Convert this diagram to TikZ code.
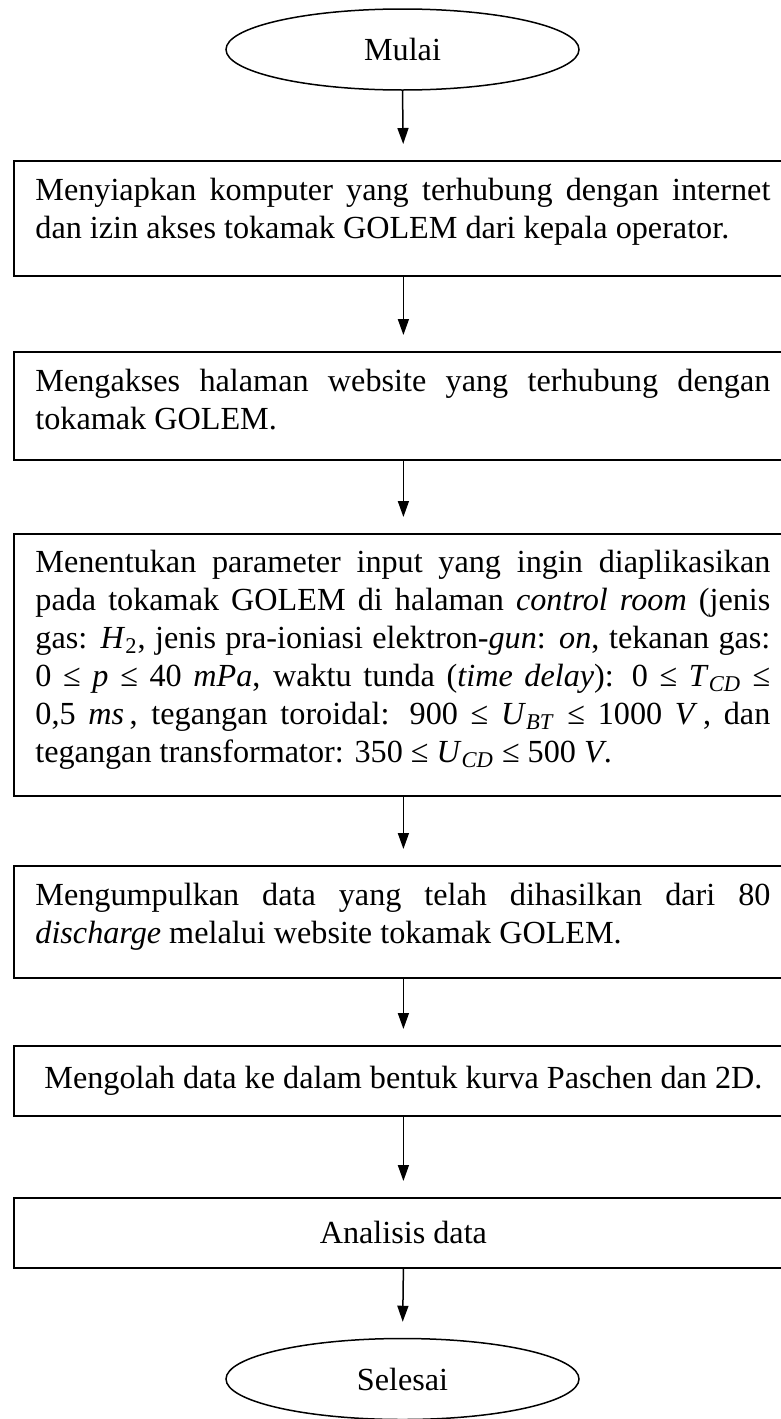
\documentclass[tikz,border=0pt]{standalone}
\usepackage{fontspec}
\setmainfont{Liberation Serif}
\usetikzlibrary{arrows.meta,shapes.geometric}
\newcommand{\mi}[1]{\textit{#1}}
\newcommand{\sbi}[1]{\textsubscript{\textit{#1}}}
\begin{document}
\begin{tikzpicture}[x=0.5pt,y=-0.5pt,
  every node/.style={font=\fontsize{16.1}{19}\selectfont},
  term/.style={ellipse, draw, line width=0.75pt, minimum width=176.5pt, minimum height=40.5pt, inner sep=0pt},
  procbox/.style={draw, line width=0.9pt, minimum width=389.5pt, inner sep=0pt, anchor=north west},
  txt/.style={anchor=north west, inner sep=0pt, text width=367.5pt, align=justify},
  arr/.style={line width=0.75pt, -{Triangle[width=5.5pt,length=8pt]}, shorten >=8pt}]
\useasboundingbox (0,0) rectangle (781,1419);
% terminals
\node[term] (start) at (402.5,49.5) {Mulai};
\node[term] (stop) at (402.5,1379) {Selesai};
% boxes
\node[procbox, minimum height=57.5pt] (b1) at (13,160) {};
\node[procbox, minimum height=54pt] (b2) at (13,351) {};
\node[procbox, minimum height=131pt] (b3) at (13,533) {};
\node[procbox, minimum height=56pt] (b4) at (13,865) {};
\node[procbox, minimum height=35pt] (b5) at (13,1045) {};
\node[procbox, minimum height=35pt] (b6) at (13,1197) {};
% texts
\node[txt] (t1) at (35,173) {\strut Menyiapkan komputer yang terhubung dengan internet\linebreak dan izin akses tokamak GOLEM dari kepala operator.};
\node[txt] (t2) at (35,364) {\strut Mengakses halaman website yang terhubung dengan\linebreak tokamak GOLEM.};
\node[txt] (t3) at (35,545) {\strut Menentukan parameter input yang ingin diaplikasikan\linebreak pada tokamak GOLEM di halaman \textit{control room} (jenis\linebreak gas: \mi{H}\textsubscript{2}, jenis pra-ioniasi elektron-\textit{gun}: \textit{on}, tekanan gas:\linebreak 0 ≤ \mi{p} ≤ 40 \mi{mPa}, waktu tunda (\textit{time delay}): 0 ≤ \mi{T}\sbi{CD} ≤\linebreak 0,5 \mi{ms}\,, tegangan toroidal: 900 ≤ \mi{U}\sbi{BT} ≤ 1000 \mi{V}\,, dan\linebreak tegangan transformator: 350 ≤ \mi{U}\sbi{CD} ≤ 500 \mi{V}.};
\node[txt] (t4) at (35,878) {\strut Mengumpulkan data yang telah dihasilkan dari 80\linebreak \textit{discharge} melalui website tokamak GOLEM.};
\node[inner sep=0pt] (t5) at (b5.center) {Mengolah data ke dalam bentuk kurva Paschen dan 2D.};
\node[inner sep=0pt] (t6) at (b6.center) {Analisis data};
% connectors
\draw[arr] (start.south) -- (b1.north);
\draw[arr] (b1.south) -- (b2.north);
\draw[arr] (b2.south) -- (b3.north);
\draw[arr] (b3.south) -- (b4.north);
\draw[arr] (b4.south) -- (b5.north);
\draw[arr] (b5.south) -- (b6.north);
\draw[arr] (b6.south) -- (stop.north);
\end{tikzpicture}
\end{document}
